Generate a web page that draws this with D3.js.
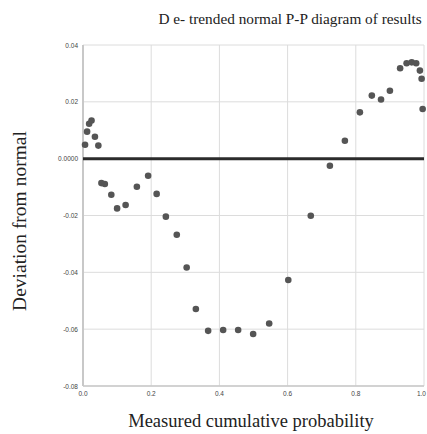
<!DOCTYPE html>
<html>
<head>
<meta charset="utf-8">
<script src="https://cdn.jsdelivr.net/npm/d3@7"></script>
<style>
  body { margin: 0; background: #fff; }
  svg { display: block; }
</style>
</head>
<body>
<div id="chart"></div>
<script>
// observed cumulative probability vs. deviation from normal
var probs = [0.006, 0.012, 0.018, 0.025, 0.035, 0.045, 0.054, 0.064, 0.083, 0.100,
             0.125, 0.158, 0.191, 0.216, 0.243, 0.275, 0.304, 0.331, 0.367, 0.411,
             0.455, 0.499, 0.546, 0.602, 0.668, 0.724, 0.768, 0.812, 0.847, 0.874,
             0.900, 0.930, 0.949, 0.964, 0.977, 0.988, 0.993, 0.996];
var devs = [0.0049, 0.0095, 0.0123, 0.0134, 0.0077, 0.0046, -0.0086, -0.0089, -0.0127, -0.0175,
            -0.0163, -0.0099, -0.0060, -0.0124, -0.0204, -0.0268, -0.0383, -0.0529, -0.0606, -0.0603,
            -0.0603, -0.0617, -0.0580, -0.0427, -0.0201, -0.0025, 0.0063, 0.0163, 0.0222, 0.0208,
            0.0239, 0.0318, 0.0336, 0.0339, 0.0336, 0.0310, 0.0281, 0.0175];

var xTicks = [0, 0.2, 0.4, 0.6, 0.8, 1.0];
var xTickLabels = ['0.0', '0.2', '0.4', '0.6', '0.8', '1.0'];
var yTicks = [0.04, 0.02, 0, -0.02, -0.04, -0.06, -0.08];
var yTickLabels = ['0.04', '0.02', '0.0000', '-0.02', '-0.04', '-0.06', '-0.08'];

var width = 427, height = 434;
var margin = {top: 45, right: 3, bottom: 48, left: 83};
var w = width - margin.left - margin.right,
    h = height - margin.top - margin.bottom;

var svg = d3.select('#chart')
            .append('svg')
            .attr('width', width)
            .attr('height', height);

var x = d3.scaleLinear().domain([0, 1]).range([0, w]);
var y = d3.scaleLinear().domain([-0.08, 0.04]).range([h, 0]);

var g = svg.append('g')
           .attr('transform', 'translate(' + margin.left + ',' + margin.top + ')');

// grid
g.selectAll('.vgrid')
 .data(xTicks)
 .enter().append('line')
 .attr('x1', function(d) { return x(d); })
 .attr('x2', function(d) { return x(d); })
 .attr('y1', 0)
 .attr('y2', h)
 .attr('stroke', '#dcdcdc')
 .attr('stroke-width', 1);

g.selectAll('.hgrid')
 .data(yTicks)
 .enter().append('line')
 .attr('x1', 0)
 .attr('x2', w)
 .attr('y1', function(d) { return y(d); })
 .attr('y2', function(d) { return y(d); })
 .attr('stroke', '#dcdcdc')
 .attr('stroke-width', 1);

// axis lines
g.append('line')
 .attr('x1', 0).attr('x2', 0)
 .attr('y1', 0).attr('y2', h)
 .attr('stroke', '#c8c8c8')
 .attr('stroke-width', 2);

g.append('line')
 .attr('x1', 0).attr('x2', w)
 .attr('y1', h).attr('y2', h)
 .attr('stroke', '#c8c8c8')
 .attr('stroke-width', 1.5);

// tick labels
g.selectAll('.ylab')
 .data(yTicks)
 .enter().append('text')
 .attr('x', -5)
 .attr('y', function(d) { return y(d) + 2.5; })
 .attr('text-anchor', 'end')
 .attr('font-family', 'Liberation Sans, Arial, sans-serif')
 .attr('font-size', 6.5)
 .attr('fill', '#444')
 .text(function(d, i) { return yTickLabels[i]; });

// last label would run off the right edge, so pin it to the end
g.selectAll('.xlab')
 .data(xTicks)
 .enter().append('text')
 .attr('x', function(d, i) { return i == xTicks.length - 1 ? x(d) + 2 : x(d); })
 .attr('y', h + 10)
 .attr('text-anchor', function(d, i) { return i == xTicks.length - 1 ? 'end' : 'middle'; })
 .attr('font-family', 'Liberation Sans, Arial, sans-serif')
 .attr('font-size', 6.5)
 .attr('fill', '#444')
 .text(function(d, i) { return xTickLabels[i]; });

// zero reference line
g.append('line')
 .attr('x1', x(0)).attr('x2', x(1))
 .attr('y1', y(0)).attr('y2', y(0))
 .attr('stroke', '#2b2b2b')
 .attr('stroke-width', 3);

// points
g.selectAll('circle')
 .data(probs)
 .enter().append('circle')
 .attr('cx', function(d) { return x(d); })
 .attr('cy', function(d, i) { return y(devs[i]); })
 .attr('r', 3.3)
 .attr('fill', '#555');

// titles
svg.append('text')
   .attr('x', 290)
   .attr('y', 24)
   .attr('text-anchor', 'middle')
   .attr('font-family', 'Liberation Serif, Times New Roman, serif')
   .attr('font-size', 15.3)
   .attr('fill', '#222')
   .text('D e- trended normal P-P diagram of results');

svg.append('text')
   .attr('x', 251)
   .attr('y', 427)
   .attr('text-anchor', 'middle')
   .attr('font-family', 'Liberation Serif, Times New Roman, serif')
   .attr('font-size', 18.5)
   .attr('fill', '#222')
   .text('Measured cumulative probability');

svg.append('text')
   .attr('transform', 'translate(26,221) rotate(-90)')
   .attr('text-anchor', 'middle')
   .attr('font-family', 'Liberation Serif, Times New Roman, serif')
   .attr('font-size', 19.5)
   .attr('fill', '#222')
   .text('Deviation from normal');
</script>
</body>
</html>
